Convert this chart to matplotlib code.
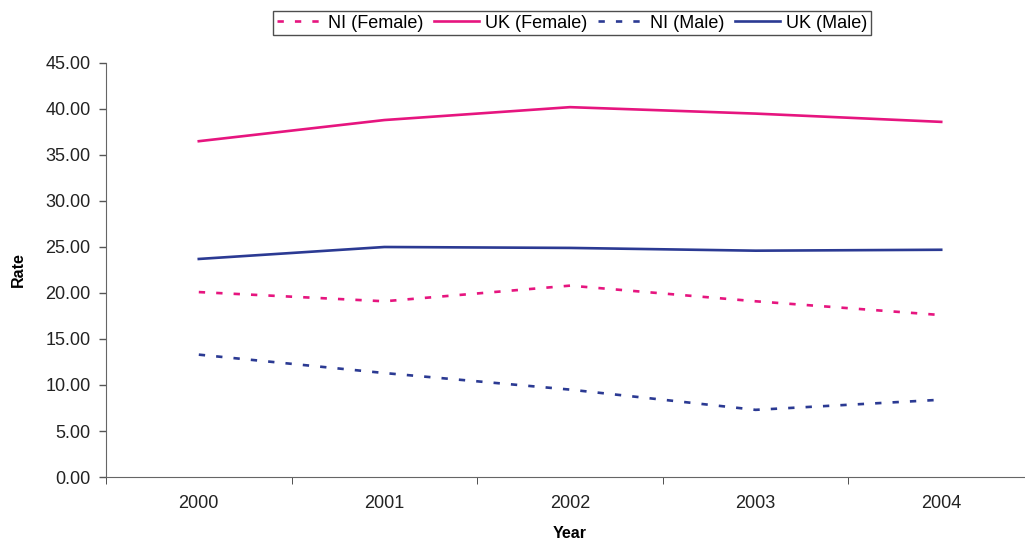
from matplotlib import pyplot as plt

# rates per year
years = ['2000', '2001', '2002', '2003', '2004']
ni_female = [20.1, 19.1, 20.8, 19.1, 17.6]
uk_female = [36.5, 38.8, 40.2, 39.5, 38.6]
ni_male = [13.3, 11.3, 9.5, 7.3, 8.4]
uk_male = [23.7, 25.0, 24.9, 24.6, 24.7]

pink = '#E6157F'
navy = '#2B3A93'

plt.rcParams['font.family'] = ['Liberation Sans', 'DejaVu Sans']

fig = plt.figure(figsize=[10.25, 5.41], dpi=100)
ax = fig.add_axes([106 / 1025, 1 - 477 / 541, 928 / 1025, 414 / 541])

x = list(range(len(years)))
dash = (0, (2.4, 4.2))
ax.plot(x, ni_female, color=pink, lw=1.9, ls=dash, label='NI (Female)')
ax.plot(x, uk_female, color=pink, lw=1.9, label='UK (Female)')
ax.plot(x, ni_male, color=navy, lw=1.9, ls=dash, label='NI (Male)')
ax.plot(x, uk_male, color=navy, lw=1.9, label='UK (Male)')

ax.set_xlim(-0.5, 4.5)
ax.set_ylim(0, 45)
ax.set_yticks([i * 5 for i in range(10)])
ax.set_yticklabels(['%.2f' % (i * 5) for i in range(10)], fontsize=13, color='#222222')
ax.set_xticks(x)
ax.set_xticklabels(years, fontsize=13, color='#222222')
ax.tick_params(axis='x', length=0, pad=13)
ax.tick_params(axis='y', length=5, color='#555555', width=1, pad=6)
ax.set_xticks([i - 0.5 for i in range(6)], minor=True)
ax.tick_params(axis='x', which='minor', length=5, color='#333333', direction='out')

for s in ['top', 'right']:
    ax.spines[s].set_visible(False)
ax.spines['left'].set_color('#666666')
ax.spines['bottom'].set_color('#666666')

ax.set_xlabel('Year', fontsize=11.5, fontweight='bold', labelpad=10)
ax.set_ylabel('Rate', fontsize=11.5, fontweight='bold', labelpad=14)

leg = fig.legend(loc='center', bbox_to_anchor=(572 / 1025, 1 - 23 / 541), ncol=4,
                 fontsize=13, frameon=True, fancybox=False, edgecolor='#222222',
                 handlelength=2.5, handletextpad=0.33, columnspacing=0.6,
                 borderpad=0.2, borderaxespad=0)
leg.get_frame().set_linewidth(1)

plt.savefig('out.png', dpi=100)
